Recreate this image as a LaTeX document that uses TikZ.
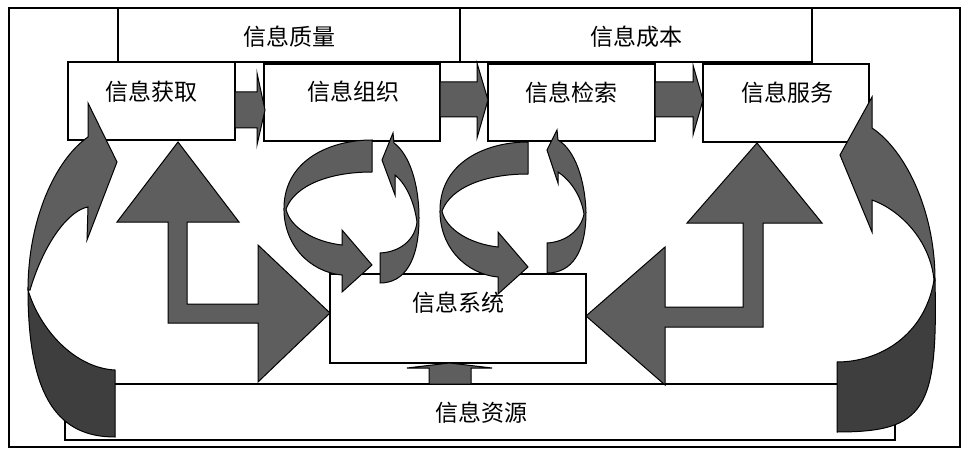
\documentclass[tikz,border=0pt]{standalone}
\usepackage{fontspec}
\newfontfamily\cjk{Noto Sans CJK SC}
\definecolor{arrgray}{HTML}{5E5E5E}
\definecolor{arrdark}{HTML}{3E3E3E}
\begin{document}
\begin{tikzpicture}[x=1pt,y=-1pt,
  box/.style={draw=black, line width=1.3pt, fill=white, inner sep=0pt, outer sep=0pt},
  lbl/.style={font=\cjk\fontsize{23pt}{26pt}\selectfont, inner sep=0pt},
  arr/.style={draw=black, line width=1pt, fill=arrgray, line join=miter},
  arrd/.style={arr, fill=arrdark}]
\useasboundingbox (0,0) rectangle (963,457);
\fill[white] (0,0) rectangle (963,457);
\draw[line width=1.4pt] (9,8) rectangle (960,447);
% boxes
\node[box, minimum width=342pt, minimum height=54pt] (qual) at (289,35) {};
\node[box, minimum width=352pt, minimum height=54pt] (cost) at (636,35) {};
\node[box, minimum width=167pt, minimum height=78pt] (acq) at (151.5,101) {};
\node[box, minimum width=176pt, minimum height=77pt] (org) at (352,102.5) {};
\node[box, minimum width=167pt, minimum height=77pt] (ret) at (571.5,102.5) {};
\node[box, minimum width=166pt, minimum height=78pt] (srv) at (786,103) {};
\node[box, minimum width=256pt, minimum height=89pt] (sys) at (458,318.5) {};
\node[box, minimum width=830pt, minimum height=56pt] (res) at (480,412) {};
% straight block arrows between the process boxes
\draw[arr] (235,92) -- (257,92) -- (257,73) -- (265,110) -- (257,145) -- (257,128) -- (235,128) -- cycle;
\draw[arr] (440,82) -- (477,82) -- (477,63) -- (488,100) -- (477,138) -- (477,117) -- (440,117) -- cycle;
\draw[arr] (655,82) -- (693,82) -- (693,65) -- (703,100) -- (693,135) -- (693,117) -- (655,117) -- cycle;
% L-shaped double arrows
\draw[arr] (178,142) -- (239,222) -- (187,222) -- (187,304) -- (258,304) -- (258,245) -- (330,313)
  -- (258,382) -- (258,323) -- (168,323) -- (168,222) -- (117,222) -- cycle;
\draw[arr] (757,143) -- (822,223) -- (763,223) -- (763,327) -- (665,327) -- (665,385) -- (586,316)
  -- (665,247) -- (665,307) -- (743,307) -- (743,223) -- (687,223) -- cycle;
% small up arrow from resources to system
\draw[arr] (429,384) -- (429,368) -- (407,368) -- (449.5,363) -- (492,368) -- (471,368) -- (471,384) -- cycle;
% left big curved arrow
\draw[arrd] (115,437) .. controls (60,437) and (28,400) .. (28,290)
  .. controls (40,330) and (75,368) .. (115,370) -- cycle;
\draw[arr] (28,290) .. controls (28,220) and (55,160) .. (88,137) -- (88,103) -- (117,162) -- (87,240) -- (88,207)
  .. controls (70,210) and (45,240) .. (30,290) -- cycle;
% right big curved arrow
\draw[arrd] (935,280) .. controls (938,410) and (925,432) .. (837,432) -- (837,362)
  .. controls (880,362) and (925,335) .. (934,280) -- cycle;
\draw[arr] (935,280) .. controls (935,210) and (905,150) .. (872,128) -- (872,97) -- (840,155) -- (872,232) -- (872,200)
  .. controls (900,210) and (930,240) .. (934,280) -- cycle;
% rotating arrows around 信息组织
\def\rotA{(372,140) .. controls (330,140) and (285,160) .. (284,207)
  .. controls (283,245) and (310,272) .. (342,275) -- (342,292) -- (372,265) -- (342,230) -- (342,245)
  .. controls (315,242) and (290,228) .. (286,209)
  .. controls (295,185) and (330,172) .. (372,172) -- cycle}
\draw[arr] \rotA;
\draw[arr] (394,143) .. controls (410,155) and (419,185) .. (419,218)
  .. controls (419,260) and (405,283) .. (380,283) -- (380,253)
  .. controls (400,252) and (415,240) .. (417,222)
  .. controls (414,200) and (405,183) .. (395,175) -- (395,195) -- (382,160) -- (393,133) -- cycle;
% rotating arrows around 信息检索
\begin{scope}[shift={(156,2)}]
\draw[arr] \rotA;
\end{scope}
\draw[arr] (558,140) .. controls (575,150) and (585,180) .. (586,212)
  .. controls (586,252) and (572,273) .. (547,273) -- (547,243)
  .. controls (566,242) and (581,230) .. (584,214)
  .. controls (581,195) and (570,180) .. (558,172) -- (558,183) -- (547,150) -- (557,130) -- cycle;
% labels
\node[lbl] (qualT) at ([yshift=-2pt]qual.center) {信息质量};
\node[lbl] (costT) at ([yshift=-2pt]cost.center) {信息成本};
\node[lbl] (acqT) at ([yshift=9pt]acq.center) {信息获取};
\node[lbl] (orgT) at ([yshift=10.5pt,xshift=1pt]org.center) {信息组织};
\node[lbl] (retT) at ([yshift=9.5pt]ret.center) {信息检索};
\node[lbl] (srvT) at ([yshift=10pt,xshift=1pt]srv.center) {信息服务};
\node[lbl] (sysT) at ([yshift=15.5pt]sys.center) {信息系统};
\node[lbl] (resT) at ([yshift=-1pt,xshift=1pt]res.center) {信息资源};
\end{tikzpicture}
\end{document}
